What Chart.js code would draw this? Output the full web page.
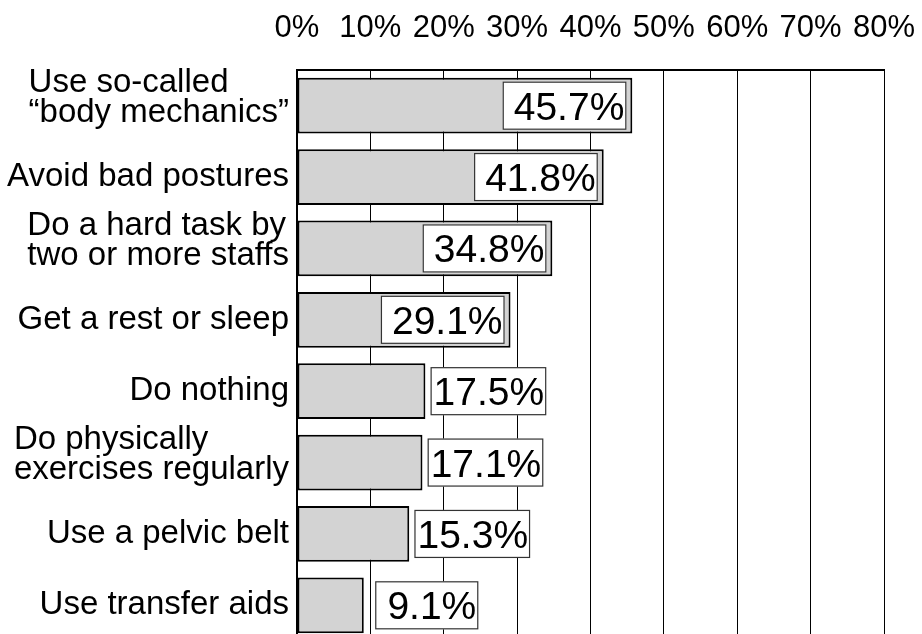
<!DOCTYPE html>
<html>
<head>
<meta charset="utf-8">
<title>Measures against low back pain</title>
<script src="https://cdn.jsdelivr.net/npm/chart.js@4/dist/chart.umd.min.js"></script>
<style>
  html, body { margin: 0; padding: 0; background: #fff; overflow: hidden; }
  canvas { display: block; }
</style>
</head>
<body>
<canvas id="bar-chart" width="922" height="642"></canvas>
<script>
const categories = [
  ["Use so-called", "\u201cbody mechanics\u201d"],
  "Avoid bad postures",
  ["Do a hard task by", "two or more staffs"],
  "Get a rest or sleep",
  "Do nothing",
  ["Do physically", "exercises regularly"],
  "Use a pelvic belt",
  "Use transfer aids",
];
const shares = [45.7, 41.8, 34.8, 29.1, 17.5, 17.1, 15.3, 9.1];
const axisMin = 0;
const axisMax = 80;
const axisStep = 10;

const FONT = '"Liberation Sans", Arial, Helvetica, sans-serif';
const insideMin = 25; // bars at least this long carry their label inside
const topAxisHeight = 70;

// category names: block is right aligned against the axis, lines left aligned
const categoryLabels = {
  id: "categoryLabels",
  afterDraw(chart) {
    const ctx = chart.ctx;
    const yScale = chart.scales.y;
    const right = chart.chartArea.left - 8;
    const lineH = 30;
    ctx.save();
    ctx.font = "33px " + FONT;
    ctx.fillStyle = "#000";
    ctx.textBaseline = "middle";
    ctx.textAlign = "left";
    categories.forEach((label, i) => {
      const lines = Array.isArray(label) ? label : [label];
      let w = 0;
      lines.forEach((l) => { w = Math.max(w, ctx.measureText(l).width); });
      const cy = yScale.getPixelForValue(i) + (lines.length > 1 ? -8 : 0);
      const top = cy - ((lines.length - 1) * lineH) / 2;
      lines.forEach((l, k) => {
        ctx.fillText(l, right - w, top + k * lineH);
      });
    });
    ctx.restore();
  },
};

// boxed value labels at the bar ends
const valueBoxes = {
  id: "valueBoxes",
  afterDatasetsDraw(chart) {
    const ctx = chart.ctx;
    const bars = chart.getDatasetMeta(0).data;
    ctx.save();
    ctx.font = "39px " + FONT;
    bars.forEach((bar, i) => {
      const v = shares[i];
      const text = v.toFixed(1) + "%";
      const w = ctx.measureText(text).width;
      const h = 48;
      let left, boxW;
      if (v >= insideMin) {
        boxW = w + 13;
        left = bar.x - 6 - boxW;
      } else {
        boxW = Math.max(w + 5, 103);
        left = bar.x + 63 - boxW / 2;
      }
      const top = bar.y - h / 2;
      ctx.fillStyle = "#fff";
      ctx.fillRect(left, top, boxW, h);
      ctx.strokeStyle = "#333";
      ctx.lineWidth = 1.2;
      ctx.strokeRect(left + 0.5, top + 0.5, boxW - 1, h - 1);
      ctx.fillStyle = "#000";
      ctx.textAlign = "right";
      ctx.textBaseline = "alphabetic";
      ctx.fillText(text, left + boxW - 2, bar.y + 14);
    });
    ctx.restore();
  },
};

const ctx = document.getElementById("bar-chart");
const chart = new Chart(ctx, {
  type: "bar",
  data: {
    labels: categories,
    datasets: [
      {
        data: shares,
        backgroundColor: "#d3d3d3",
        borderColor: "#000",
        borderWidth: 2,
        borderSkipped: false,
        categoryPercentage: 1,
        barPercentage: 0.78,
      },
    ],
  },
  options: {
    indexAxis: "y",
    responsive: false,
    animation: false,
    devicePixelRatio: 1,
    layout: { padding: { left: 289, right: 38, top: 0, bottom: 1 } },
    plugins: {
      legend: { display: false },
      tooltip: { enabled: false },
    },
    scales: {
      x: {
        position: "top",
        min: axisMin,
        max: axisMax,
        ticks: {
          stepSize: axisStep,
          color: "#000",
          padding: 23,
          font: { family: FONT, size: 31, lineHeight: 1.2 },
          callback: (v) => v + "%",
        },
        grid: { color: "#000", lineWidth: 1, drawTicks: false },
        border: { display: true, color: "#000", width: 2 },
        // fixed band above the plot; keep the tick gap out of the side padding
        afterFit(scale) {
          scale.height = topAxisHeight;
          scale.paddingLeft = 0;
          scale.paddingRight = 0;
        },
      },
      y: {
        ticks: { display: false },
        grid: { display: false },
        border: { display: true, color: "#000", width: 2 },
      },
    },
  },
  plugins: [categoryLabels, valueBoxes],
});
</script>
</body>
</html>
